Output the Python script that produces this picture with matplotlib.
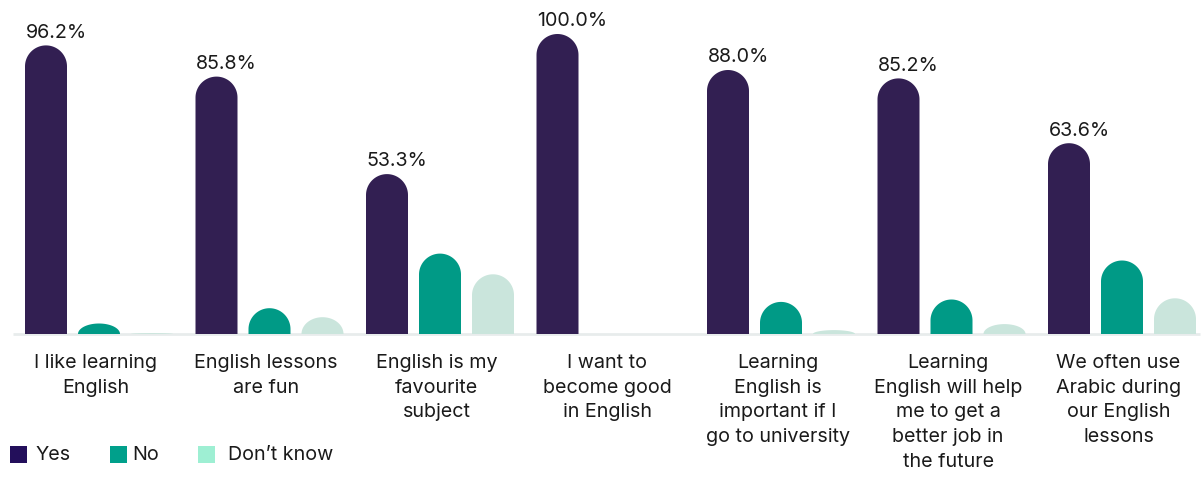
import matplotlib.pyplot as plt
import numpy as np
from matplotlib.patches import Polygon, Rectangle

plt.rcParams['font.family'] = ['Inter', 'DejaVu Sans']

categories = [
    "I like learning\nEnglish",
    "English lessons\nare fun",
    "English is my\nfavourite\nsubject",
    "I want to\nbecome good\nin English",
    "Learning\nEnglish is\nimportant if I\ngo to university",
    "Learning\nEnglish will help\nme to get a\nbetter job in\nthe future",
    "We often use\nArabic during\nour English\nlessons",
]
yes = [96.2, 85.8, 53.3, 100.0, 88.0, 85.2, 63.6]
no = [3.5, 8.6, 26.8, 0.0, 10.7, 11.5, 24.5]
dont_know = [0.3, 5.6, 19.9, 0.0, 1.3, 3.3, 11.9]

series = [("Yes", yes), ("No", no), ("Don\u2019t know", dont_know)]
bar_colors = ["#321f52", "#009a86", "#cae5dc"]
legend_colors = ["#230f5b", "#00a08b", "#9eefd3"]

W, H = 1203, 478
fig = plt.figure(figsize=(W / 100, H / 100), dpi=100)

# plot area: 0% at y=334px, 100% at y=34px; group spacing 170.5px
base_px, top_px = 334, 34
group_px = 170.5
first_px = 99
ax = fig.add_axes([0, (H - base_px) / H, 1, (base_px - top_px) / H])
ax.set_xlim(-first_px / group_px, (W - first_px) / group_px)
ax.set_ylim(0, 100)
ax.axis('off')

px_x = 1 / group_px            # data units per pixel along x
px_y = 100 / (base_px - top_px)  # data units per pixel along y
bar_w = 42 * px_x
step = 53 * px_x
r_x = bar_w / 2
r_y = 21 * px_y


def rounded_bar(xc, h, color):
    if h <= 0:
        return
    ry = min(r_y, h)
    t = np.linspace(0, np.pi, 60)
    arc_x = xc + r_x * np.cos(t)
    arc_y = (h - ry) + ry * np.sin(t)
    pts = [(xc + r_x, 0)] + list(zip(arc_x, arc_y)) + [(xc - r_x, 0)]
    ax.add_patch(Polygon(pts, closed=True, facecolor=color, edgecolor='none'))


# baseline
ax.plot([(13 - first_px) / group_px, (1200 - first_px) / group_px], [0, 0],
        color="#e8ecec", lw=2, solid_capstyle='butt', clip_on=False, zorder=0)

x = np.arange(len(categories))
for j, (name, vals) in enumerate(series):
    for i, v in enumerate(vals):
        rounded_bar(x[i] + (j - 1) * step, v, bar_colors[j])

# value labels, left-aligned with the "Yes" bars
for i, v in enumerate(yes):
    ax.annotate(f"{v:.1f}%", xy=(x[i] - step - r_x, v), xytext=(0.5, 5.5),
                textcoords='offset points', ha='left', va='baseline',
                fontsize=14.2, color="#1a1a1a", annotation_clip=False)

for i, c in enumerate(categories):
    ax.text(x[i] - 0.02, -20 * px_y, c, ha='center', va='top', fontsize=14.2,
            color="#1a1a1a", linespacing=1.48, clip_on=False)

# legend row
legend_x = [10, 110, 198]
text_x = [36, 132, 228]
for (name, _), lx, tx, col in zip(series, legend_x, text_x, legend_colors):
    fig.add_artist(Rectangle((lx / W, (H - 463) / H), 17 / W, 17 / H,
                             transform=fig.transFigure, facecolor=col,
                             edgecolor='none'))
    fig.text(tx / W, (H - 454.5) / H, name, ha='left', va='center',
             fontsize=14.2, color="#1a1a1a")

fig.savefig("out.png", dpi=100)
